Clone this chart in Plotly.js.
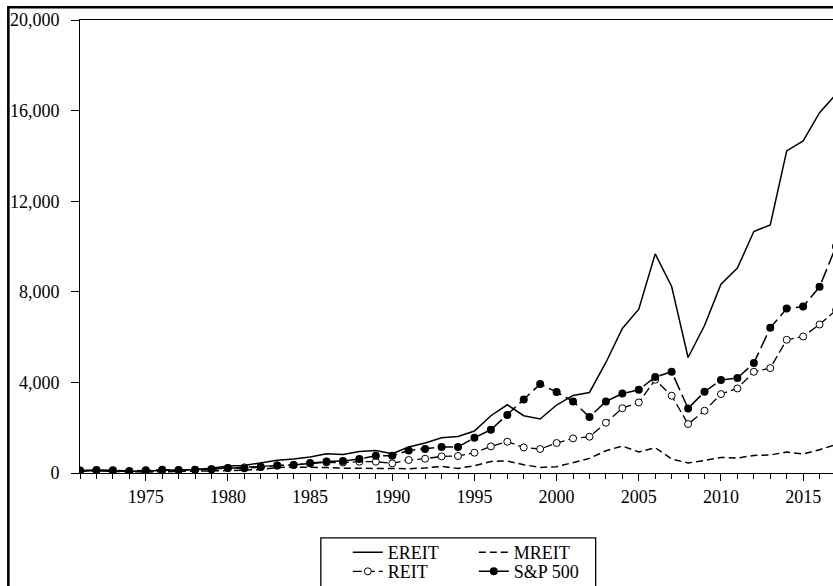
<!DOCTYPE html>
<html>
<head>
<meta charset="utf-8">
<script src="https://cdn.plot.ly/plotly-3.0.1.min.js"></script>
<style>
html, body { margin:0; padding:0; background:#fff; overflow:hidden; width:833px; height:586px; }
#chart { position:absolute; left:0; top:0; width:900px; height:640px; }
</style>
</head>
<body>
<div id="chart"></div>
<script>
const years = [1971,1972,1973,1974,1975,1976,1977,1978,1979,1980,
  1981,1982,1983,1984,1985,1986,1987,1988,1989,1990,
  1991,1992,1993,1994,1995,1996,1997,1998,1999,2000,
  2001,2002,2003,2004,2005,2006,2007,2008,2009,2010,
  2011,2012,2013,2014,2015,2016,2017];

const ereit = [100,110,95,70,85,110,130,150,210,310,
  335,450,560,620,710,850,822,945,997,851,
  1147,1324,1557,1615,1853,2528,3013,2528,2382,3000,
  3424,3556,4880,6380,7230,9675,8234,5100,6512,8338,
  9045,10660,10955,14220,14660,15910,16720];

const mreit = [100,105,70,45,45,55,65,70,90,110,
  120,160,240,260,265,240,215,205,195,176,
  190,220,291,203,322,512,529,366,247,278,
  468,644,984,1191,926,1116,618,441,556,688,
  662,777,794,926,838,1028,1260];

const reit = [100,108,90,65,80,105,125,135,170,220,
  250,280,330,360,420,470,460,499,499,424,
  574,631,733,750,896,1174,1381,1130,1059,1324,
  1527,1602,2219,2860,3115,4117,3410,2162,2749,3485,
  3733,4469,4632,5881,6027,6556,7190];

const sp500 = [114,136,116,85,117,145,134,143,170,225,
  214,260,335,353,441,512,529,618,763,763,
  997,1059,1147,1147,1557,1910,2559,3248,3926,3574,
  3159,2471,3159,3505,3675,4235,4469,2850,3587,4103,
  4191,4853,6411,7262,7350,8220,10000];

const seriesNames = ['EREIT','MREIT','REIT','S&P 500'];

const FONT = 'Liberation Serif, Times New Roman, serif';

const traces = [
  {x: years, y: ereit, name: seriesNames[0], mode: 'lines', legend: 'legend',
   line: {color:'#000', width:1.5}},
  {x: years, y: mreit, name: seriesNames[1], mode: 'lines', legend: 'legend',
   line: {color:'#000', width:1.5, dash:'7px,4px'}},
  {x: years, y: reit, name: seriesNames[2], mode: 'lines+markers', legend: 'legend2',
   line: {color:'#000', width:1.3, dash:'9px,4px'},
   marker: {symbol:'circle', size:7, color:'#fff', line:{color:'#000', width:1}}},
  {x: years, y: sp500, name: seriesNames[3], mode: 'lines+markers', legend: 'legend2',
   line: {color:'#000', width:1.5, dash:'14px,5px'},
   marker: {symbol:'circle', size:8, color:'#000'}}
];

const W = 900, H = 640;
const L = 80, T = 20, PW = 756.5, PB = 473.3;
const PH = PB - T;
function px2x(px){ return (px - L) / PW; }
function py2y(py){ return (PB - py) / PH; }

const layout = {
  width: W, height: H,
  margin: {l: L, r: W - L - PW, t: T, b: H - PB, pad: 0},
  paper_bgcolor: '#fff', plot_bgcolor: '#fff',
  font: {family: FONT, size: 18, color: '#000'},
  showlegend: true,
  xaxis: {
    range: [1971, 2017], tickmode: 'linear', tick0: 1975, dtick: 5,
    ticks: 'outside', ticklen: 7, tickwidth: 1, tickcolor: '#000',
    minor: {dtick: 1, tick0: 1971, ticks: 'outside', ticklen: 5, tickwidth: 1, tickcolor: '#000', showgrid: false},
    showgrid: false, zeroline: false,
    showline: true, linecolor: '#000', linewidth: 1, mirror: true,
    tickfont: {family: FONT, size: 18, color: '#000'},
    ticklabelstandoff: 0
  },
  yaxis: {
    range: [0, 20000], tickmode: 'linear', tick0: 0, dtick: 4000,
    tickformat: ',d',
    ticks: 'outside', ticklen: 8, tickwidth: 1, tickcolor: '#000',
    showgrid: false, zeroline: false,
    showline: true, linecolor: '#000', linewidth: 1, mirror: true,
    tickfont: {family: FONT, size: 18, color: '#000'},
    ticklabelstandoff: 8
  },
  legend: {
    orientation: 'h', x: px2x(348), xanchor: 'left', y: py2y(553), yanchor: 'middle',
    entrywidth: 81, entrywidthmode: 'pixels',
    bgcolor: 'rgba(0,0,0,0)', borderwidth: 0,
    font: {family: FONT, size: 18, color: '#000'}, traceorder: 'normal'
  },
  legend2: {
    orientation: 'h', x: px2x(348), xanchor: 'left', y: py2y(572), yanchor: 'middle',
    entrywidth: 81, entrywidthmode: 'pixels',
    bgcolor: 'rgba(0,0,0,0)', borderwidth: 0,
    font: {family: FONT, size: 18, color: '#000'}, traceorder: 'normal'
  },
  shapes: [
    {type: 'rect', xref: 'paper', yref: 'paper',
     x0: px2x(321), x1: px2x(596), y0: py2y(700), y1: py2y(538.3),
     line: {color: '#000', width: 1.3}, fillcolor: 'rgba(0,0,0,0)'},
    {type: 'rect', xref: 'paper', yref: 'paper',
     x0: px2x(8.3), x1: px2x(1200), y0: py2y(900), y1: py2y(7.2),
     line: {color: '#000', width: 2.6}, fillcolor: 'rgba(0,0,0,0)'}
  ]
};

Plotly.newPlot('chart', traces, layout, {displayModeBar: false, staticPlot: true});
</script>
</body>
</html>
